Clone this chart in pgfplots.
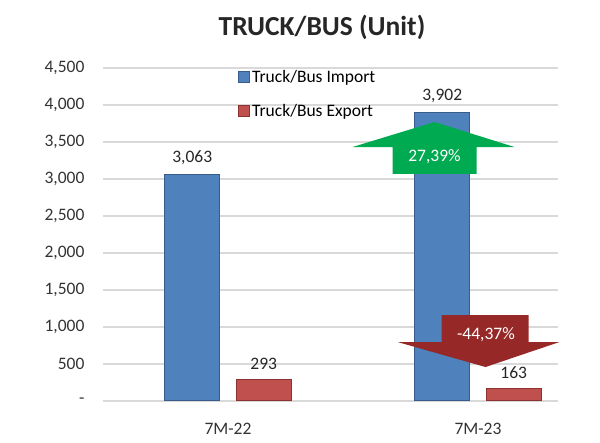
\documentclass[border=0pt]{standalone}
\usepackage{fontspec}
\setmainfont{Carlito}
\usepackage{pgfplots}
\pgfplotsset{compat=1.18}

\definecolor{impblue}{RGB}{79,129,189}
\definecolor{impedge}{RGB}{56,93,138}
\definecolor{expred}{RGB}{192,80,77}
\definecolor{expedge}{RGB}{140,50,48}
\definecolor{gridgray}{RGB}{217,217,217}
\definecolor{upgreen}{RGB}{0,170,80}
\definecolor{downred}{RGB}{150,40,40}

\begin{document}
\begin{tikzpicture}
\useasboundingbox (0,0) rectangle (600pt,443pt);
\begin{axis}[
    at={(103pt,42pt)}, anchor=south west,
    scale only axis,
    width=455pt, height=333pt,
    xmin=-0.5, xmax=1.32,
    ymin=0, ymax=4500,
    axis line style={draw=none},
    tick style={draw=none},
    xtick={0,1}, xticklabels={7M-22,7M-23},
    ytick={0,500,...,4500},
    yticklabels={-,500,{1,000},{1,500},{2,000},{2,500},{3,000},{3,500},{4,000},{4,500}},
    ymajorgrids, grid style={gridgray, line width=2pt},
    ticklabel style={font=\fontsize{17.5}{21}\selectfont, text=black!80},
    yticklabel style={xshift=-15pt},
    xticklabel style={yshift=-14pt},
    ybar, bar width=55pt,
    clip=false,
    nodes near coords, point meta=explicit symbolic,
    nodes near coords style={font=\fontsize{17.5}{21}\selectfont, text=black!85, yshift=6pt},
    legend style={at={(0.29,1.005)}, anchor=north west, draw=none, fill=none,
        font=\fontsize{17.5}{21}\selectfont, row sep=16pt},
    legend cell align=left,
    legend image code/.code={\draw[#1] (-6pt,-5.5pt) rectangle (5pt,5.5pt);},
]
% import
\addplot[fill=impblue, draw=impedge, line width=1pt, bar shift=-35.75pt]
    coordinates {(0,3063) [3,063] (1,3902) [3,902]};
\addlegendentry{Truck/Bus Import}
% export
\addplot[fill=expred, draw=expedge, line width=1pt, bar shift=35.75pt]
    coordinates {(0,293) [293] (1,163) [163]};
\addlegendentry{Truck/Bus Export}

% growth arrows
\fill[upgreen] (axis cs:0.826,3770) -- (axis cs:1.146,3432) -- (axis cs:0.994,3432)
    -- (axis cs:0.994,3068) -- (axis cs:0.658,3068) -- (axis cs:0.658,3432)
    -- (axis cs:0.498,3432) -- cycle;
\node[text=white, font=\fontsize{17.5}{21}\selectfont] at (axis cs:0.826,3297) {27,39\%};
\fill[downred] (axis cs:0.854,1162) -- (axis cs:1.202,1162) -- (axis cs:1.202,797)
    -- (axis cs:1.326,797) -- (axis cs:1.03,459) -- (axis cs:0.678,797)
    -- (axis cs:0.854,797) -- cycle;
\node[text=white, font=\fontsize{17.5}{21}\selectfont] at (axis cs:1.032,892) {-44,37\%};
\end{axis}
\node[font=\bfseries\fontsize{27.5}{32}\selectfont, text=black!85] at (322pt,416pt) {TRUCK/BUS (Unit)};
\end{tikzpicture}
\end{document}
